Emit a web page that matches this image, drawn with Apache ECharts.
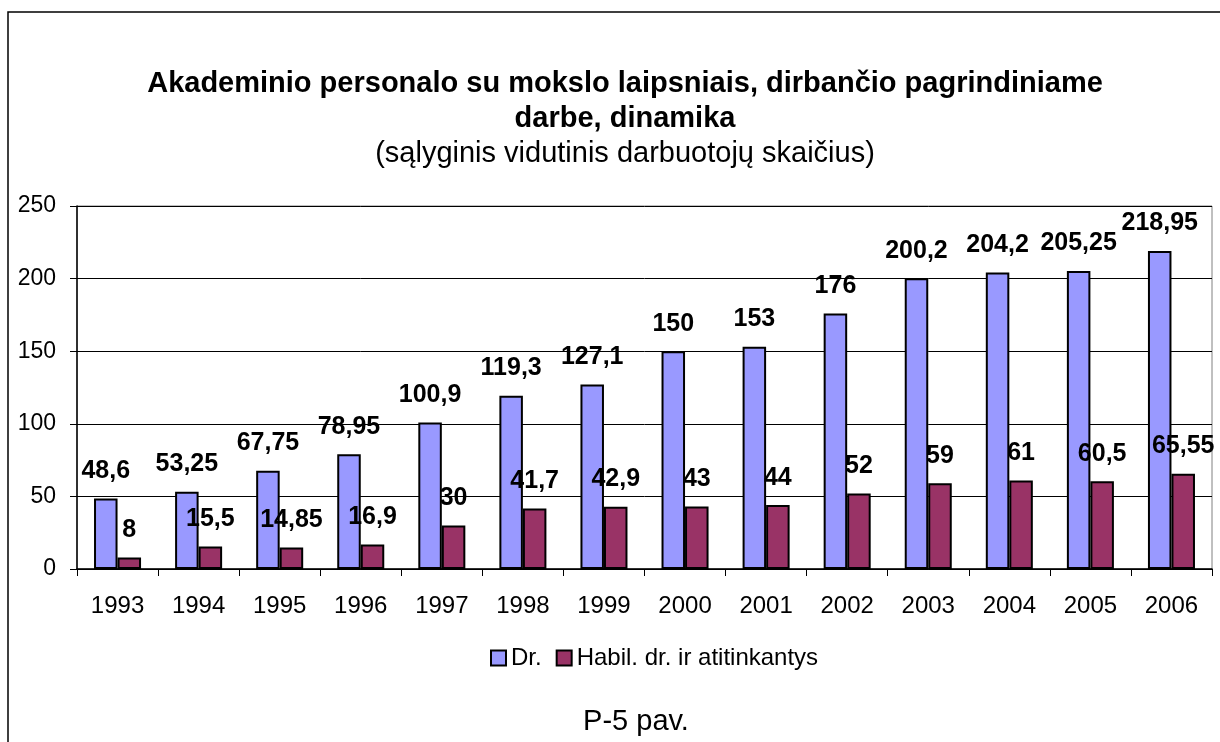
<!DOCTYPE html>
<html>
<head>
<meta charset="utf-8">
<script src="https://cdn.jsdelivr.net/npm/echarts@6/dist/echarts.min.js"></script>
<style>
  html, body { margin: 0; padding: 0; background: #fff; }
  #main { width: 1220px; height: 742px; }
</style>
</head>
<body>
<div id="main"></div>
<script>
// data
var years = ['1993', '1994', '1995', '1996', '1997', '1998', '1999', '2000', '2001', '2002', '2003', '2004', '2005', '2006'];
var drValues = [48.6, 53.25, 67.75, 78.95, 100.9, 119.3, 127.1, 150, 153, 176, 200.2, 204.2, 205.25, 218.95];
var habilValues = [8, 15.5, 14.85, 16.9, 30, 41.7, 42.9, 43, 44, 52, 59, 61, 60.5, 65.55];
var seriesNames = ['Dr.', 'Habil. dr. ir atitinkantys'];

var font = 'Arial, "Liberation Sans", sans-serif';

// skaičiai su kableliu
function commaFmt(p) {
    return String(p.value).replace('.', ',');
}

var chart = echarts.init(document.getElementById('main'));

var option = {
    backgroundColor: '#fff',
    animation: false,
    title: [
        {
            text: 'Akademinio personalo su mokslo laipsniais, dirbančio pagrindiniame\ndarbe, dinamika',
            left: 620,
            top: 61,
            textAlign: 'center',
            textStyle: {
                fontFamily: font,
                fontSize: 29,
                fontWeight: 'bold',
                color: '#000',
                lineHeight: 35,
                align: 'center'
            }
        },
        {
            text: '(sąlyginis vidutinis darbuotojų skaičius)',
            left: 620,
            top: 134,
            textAlign: 'center',
            textStyle: {
                fontFamily: font,
                fontSize: 29,
                fontWeight: 'normal',
                color: '#000'
            }
        },
        {
            text: 'P-5 pav.',
            left: 631,
            top: 702,
            textAlign: 'center',
            textStyle: {
                fontFamily: font,
                fontSize: 29,
                fontWeight: 'normal',
                color: '#000'
            }
        }
    ],
    graphic: [{
        type: 'rect',
        shape: {x: 8, y: 12, width: 1400, height: 900},
        style: {fill: 'none', stroke: '#000', lineWidth: 1.5},
        silent: true
    }],
    legend: {
        left: 485,
        top: 641,
        itemWidth: 15,
        itemHeight: 15,
        itemGap: 14,
        icon: 'rect',
        textStyle: {
            fontFamily: font,
            fontSize: 24,
            color: '#000'
        },
        data: seriesNames
    },
    grid: {
        left: 77,
        right: 8,
        top: 206,
        bottom: 173,
        show: true,
        borderColor: '#808080',
        borderWidth: 1
    },
    xAxis: {
        type: 'category',
        data: years,
        axisLine: {lineStyle: {color: '#000', width: 1.5}},
        axisTick: {show: true, length: 7, lineStyle: {color: '#000'}},
        axisLabel: {
            fontFamily: font,
            fontSize: 24,
            color: '#000',
            margin: 25,
            interval: 0
        }
    },
    yAxis: {
        type: 'value',
        min: 0,
        max: 250,
        interval: 50,
        axisLine: {show: true, lineStyle: {color: '#000', width: 1.5}},
        axisTick: {show: true, length: 7, lineStyle: {color: '#000'}},
        splitLine: {lineStyle: {color: '#000', width: 1}},
        axisLabel: {
            fontFamily: font,
            fontSize: 23,
            color: '#000',
            margin: 21
        }
    },
    series: [
        {
            name: seriesNames[0],
            type: 'bar',
            data: drValues,
            barGap: '0%',
            barCategoryGap: '42%',
            itemStyle: {color: '#9999FF', borderColor: '#000', borderWidth: 2},
            label: {
                show: true,
                position: 'top',
                distance: 15,
                formatter: commaFmt,
                fontFamily: font,
                fontSize: 25,
                fontWeight: 'bold',
                color: '#000'
            }
        },
        {
            name: seriesNames[1],
            type: 'bar',
            data: habilValues,
            itemStyle: {color: '#993366', borderColor: '#000', borderWidth: 2},
            label: {
                show: true,
                position: 'top',
                distance: 15,
                formatter: commaFmt,
                fontFamily: font,
                fontSize: 25,
                fontWeight: 'bold',
                color: '#000'
            }
        }
    ]
};

chart.setOption(option);
</script>
</body>
</html>
